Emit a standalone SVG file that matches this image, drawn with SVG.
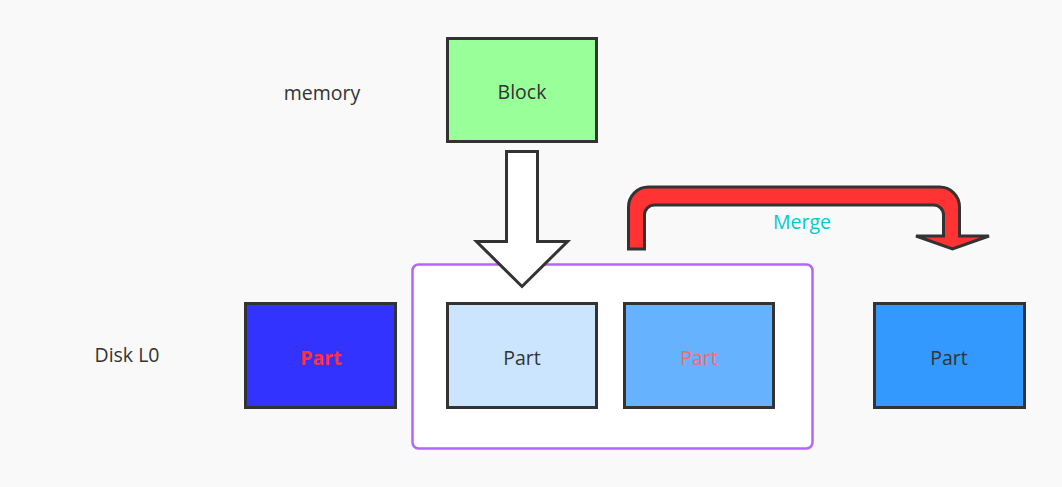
<svg xmlns="http://www.w3.org/2000/svg" width="1062" height="487" viewBox="0 0 1062 487">
<style>
.box{stroke:#333333;stroke-width:3}
.t{font-family:"Open Sans","Noto Sans","Liberation Sans",sans-serif;font-size:19.5px;text-anchor:middle;dominant-baseline:central;fill:#333333}
</style>
<rect x="0" y="0" width="1062" height="487" fill="#f9f9f9"/>
<g id="label-memory"><text class="t" x="322" y="92">memory</text></g>
<g id="label-disk"><text class="t" x="127" y="354">Disk L0</text></g>
<g id="block"><rect class="box" x="447.5" y="38.5" width="149" height="103" fill="#99ff99"/><text class="t" x="522" y="91">Block</text></g>
<g id="container"><rect x="412.5" y="264.5" width="400" height="184" rx="6" fill="#ffffff" stroke="#b266ff" stroke-width="2.5"/></g>
<g id="part-left"><rect class="box" x="245.5" y="303.5" width="150" height="104" fill="#3333ff"/><text class="t" x="321" y="357" style="fill:#ff3333;font-weight:bold">Part</text></g>
<g id="part-1"><rect class="box" x="447.5" y="303.5" width="149" height="104" fill="#cce5ff"/><text class="t" x="522" y="357">Part</text></g>
<g id="part-2"><rect class="box" x="624.5" y="303.5" width="149" height="104" fill="#66b2ff"/><text class="t" x="699" y="357" style="fill:#ff6666">Part</text></g>
<g id="part-right"><rect class="box" x="874.5" y="303.5" width="150" height="104" fill="#3399ff"/><text class="t" x="949" y="357">Part</text></g>
<g id="connectors">
<path d="M506.5,151.5 L537.5,151.5 L537.5,241.5 L567.5,241.5 L522,286.5 L476.5,241.5 L506.5,241.5 Z" fill="#ffffff" stroke="#333333" stroke-width="3" stroke-linejoin="miter"/>
<path d="M628.5,249 L628.5,207 A20,20 0 0 1 648.5,187 L939.5,187 A20,20 0 0 1 959.5,207 L959.5,236 L989,236 L952.5,249 L916,236 L943.5,236 L943.5,215 A10,10 0 0 0 933.5,205 L654.5,205 A10,10 0 0 0 644.5,215 L644.5,249 Z" fill="#ff3333" stroke="#333333" stroke-width="3" stroke-linejoin="miter"/>
<text class="t" x="802" y="221" style="fill:#00cccc">Merge</text>
</g>
</svg>
